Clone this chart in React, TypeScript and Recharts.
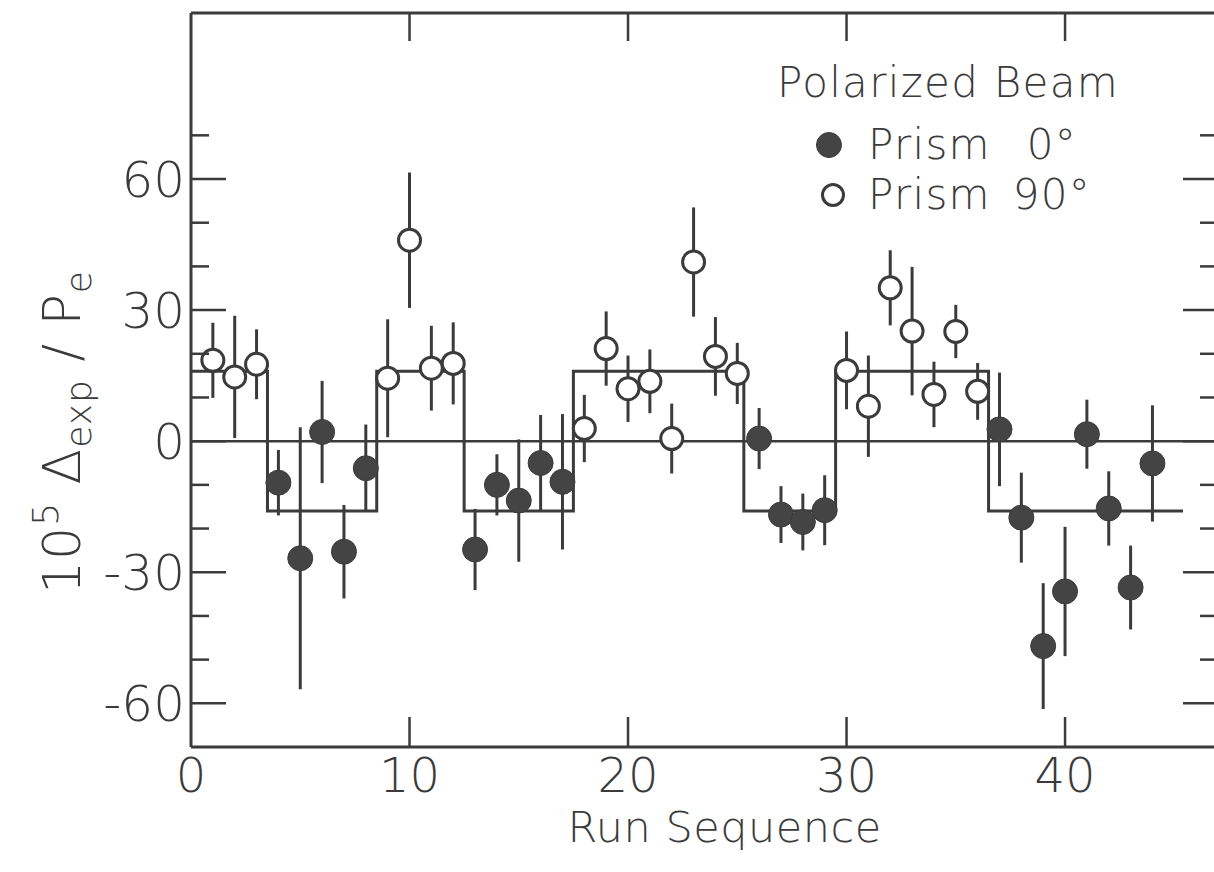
import { ComposedChart, Scatter, Line, XAxis, YAxis, ErrorBar, ReferenceLine, Legend } from 'recharts';

const INK = '#3b3b3b';
const FONT = '"DejaVu Sans", "Noto Sans", sans-serif';

// Prism 0 deg (filled circles)
const filledRuns = [4, 5, 6, 7, 8, 13, 14, 15, 16, 17, 26, 27, 28, 29, 37, 38, 39, 40, 41, 42, 43, 44];
const filledVals = [-9.5, -26.8, 2.1, -25.3, -6.2, -24.8, -10, -13.6, -5, -9.3, 0.6, -16.8, -18.5, -15.8, 2.7, -17.5, -46.9, -34.4, 1.6, -15.4, -33.5, -5.1];
const filledErrs = [7.5, 30, 11.7, 10.7, 10, 9.3, 7, 14, 11, 15.5, 7, 6.5, 6.5, 8, 13, 10.3, 14.4, 14.8, 7.9, 8.5, 9.6, 13.3];

// Prism 90 deg (open circles)
const openRuns = [1, 2, 3, 9, 10, 11, 12, 18, 19, 20, 21, 22, 23, 24, 25, 30, 31, 32, 33, 34, 35, 36];
const openVals = [18.5, 14.7, 17.6, 14.4, 46, 16.7, 17.8, 2.9, 21.2, 12, 13.7, 0.6, 41, 19.4, 15.5, 16.2, 8, 35.1, 25.2, 10.7, 25.1, 11.4];
const openErrs = [8.6, 14, 8, 13.5, 15.5, 9.7, 9.4, 7.7, 8.5, 7.6, 7.3, 8, 12.5, 9, 7, 8.9, 11.6, 8.6, 14.7, 7.5, 6.1, 6.5];

// expected sign pattern (square wave)
const stepX = [0, 3.5, 8.5, 12.5, 17.5, 25.3, 29.5, 36.5, 45.4];
const stepY = [16, -16, 16, -16, 16, -16, 16, -16, -16];

const xTicks = [0, 10, 20, 30, 40];
const topTicks = [10, 20, 30, 40];
const yTicks = [-60, -50, -40, -30, -20, -10, 0, 10, 20, 30, 40, 50, 60, 70];

const filledData = filledRuns.map((x, i) => ({ x, y: filledVals[i], err: filledErrs[i] }));
const openData = openRuns.map((x, i) => ({ x, y: openVals[i], err: openErrs[i] }));
const stepData = stepX.map((x, i) => ({ x, y: stepY[i] }));

const GAP = 8; // tickMargin, used to find the axis line back from the label position

function BottomTick(props: any) {
  const { x, y, payload } = props;
  const axisY = y - GAP;
  return (
    <g>
      {payload.value !== 0 && <line x1={x} x2={x} y1={axisY} y2={axisY - 30} stroke={INK} strokeWidth={2.5} />}
      <text x={x} y={axisY + 45} textAnchor="middle" fontSize={48} fontFamily={FONT} fontWeight={300} fill={INK}>
        {payload.value}
      </text>
    </g>
  );
}

function TopTick(props: any) {
  const { x, y } = props;
  const axisY = y + GAP;
  return <line x1={x} x2={x} y1={axisY} y2={axisY + 28} stroke={INK} strokeWidth={2.5} />;
}

function LeftTick(props: any) {
  const { x, y, payload } = props;
  const axisX = x + GAP;
  const major = payload.value % 30 === 0;
  return (
    <g>
      <line x1={axisX} x2={axisX + (major ? 35 : 18)} y1={y} y2={y} stroke={INK} strokeWidth={2.5} />
      {major && (
        <text x={axisX - 6} y={y} dy={18} textAnchor="end" fontSize={50} fontFamily={FONT} fontWeight={300} fill={INK}>
          {payload.value}
        </text>
      )}
    </g>
  );
}

function RightTick(props: any) {
  const { x, y, payload } = props;
  const axisX = x - GAP;
  const major = payload.value % 30 === 0;
  return <line x1={axisX} x2={axisX - (major ? 35 : 18)} y1={y} y2={y} stroke={INK} strokeWidth={2.5} />;
}

function YTitle(props: any) {
  const vb = props.viewBox;
  const cx = vb.x + 80;
  const cy = vb.y + vb.height / 2 + 52;
  return (
    <text transform={`rotate(-90, ${cx}, ${cy})`} x={cx} y={cy} textAnchor="middle" fontSize={52} letterSpacing={1} fontFamily={FONT} fontWeight={300} fill={INK}>
      <tspan>10</tspan>
      <tspan dy={-22} fontSize={36}>5</tspan>
      <tspan dy={22}> Δ</tspan>
      <tspan dy={11} fontSize={36}>exp</tspan>
      <tspan dy={-11}> / P</tspan>
      <tspan dy={11} fontSize={36}>e</tspan>
    </text>
  );
}

function XTitle(props: any) {
  const vb = props.viewBox;
  return (
    <text x={vb.x + vb.width / 2 + 20} y={vb.y + 95} textAnchor="middle" fontSize={43} letterSpacing={0.5} fontFamily={FONT} fontWeight={300} fill={INK}>
      Run Sequence
    </text>
  );
}

function FilledDot(props: any) {
  return <circle cx={props.cx} cy={props.cy} r={12.5} fill="#444" stroke={INK} strokeWidth={1} />;
}

function OpenDot(props: any) {
  return <circle cx={props.cx} cy={props.cy} r={11} fill="#fff" stroke={INK} strokeWidth={3} />;
}

function LegendBox() {
  const row = { display: 'flex', alignItems: 'center', height: 50, lineHeight: '50px' } as const;
  return (
    <div style={{ fontFamily: FONT, fontWeight: 300, fontSize: 42, color: INK, whiteSpace: 'pre', letterSpacing: 1.3 }}>
      <div style={{ height: 62, lineHeight: '50px' }}>Polarized Beam</div>
      <div style={row}>
        <svg width={91} height={50}>
          <circle cx={52} cy={25} r={12.5} fill="#444" stroke={INK} strokeWidth={1} />
        </svg>
        <span>Prism</span>
        <span style={{ marginLeft: 36 }}>0°</span>
      </div>
      <div style={row}>
        <svg width={91} height={50}>
          <circle cx={56} cy={25} r={10.5} fill="#fff" stroke={INK} strokeWidth={3} />
        </svg>
        <span>Prism</span>
        <span style={{ marginLeft: 22 }}>90°</span>
      </div>
    </div>
  );
}

export default function App() {
  return (
    <div style={{ position: 'fixed', left: 0, top: 0, width: 1214, height: 872, overflow: 'hidden', background: '#fff' }}>
      <ComposedChart width={1240} height={872} margin={{ top: 0, right: 0, bottom: 0, left: 0 }}>
        <XAxis
          xAxisId="b"
          dataKey="x"
          type="number"
          domain={[0, 47]}
          ticks={xTicks}
          interval={0}
          orientation="bottom"
          height={125}
          axisLine={{ stroke: INK, strokeWidth: 3 }}
          tickLine={false}
          tickSize={0}
          tickMargin={GAP}
          tick={(p: any) => <BottomTick {...p} />}
          label={(p: any) => <XTitle {...p} />}
        />
        <XAxis
          xAxisId="t"
          dataKey="x"
          type="number"
          domain={[0, 47]}
          ticks={topTicks}
          interval={0}
          orientation="top"
          height={13}
          axisLine={{ stroke: INK, strokeWidth: 3 }}
          tickLine={false}
          tickSize={0}
          tickMargin={GAP}
          tick={(p: any) => <TopTick {...p} />}
        />
        <YAxis
          yAxisId="l"
          type="number"
          domain={[-70, 98]}
          ticks={yTicks}
          interval={0}
          orientation="left"
          width={191}
          axisLine={{ stroke: INK, strokeWidth: 3 }}
          tickLine={false}
          tickSize={0}
          tickMargin={GAP}
          tick={(p: any) => <LeftTick {...p} />}
          label={(p: any) => <YTitle {...p} />}
        />
        <YAxis
          yAxisId="r"
          type="number"
          domain={[-70, 98]}
          ticks={yTicks}
          interval={0}
          orientation="right"
          width={22}
          axisLine={{ stroke: INK, strokeWidth: 3 }}
          tickLine={false}
          tickSize={0}
          tickMargin={GAP}
          tick={(p: any) => <RightTick {...p} />}
        />
        <ReferenceLine xAxisId="b" yAxisId="l" y={0} stroke={INK} strokeWidth={2.5} />
        {/* invisible copy so the top and right axes get their scales and ticks */}
        <Line
          xAxisId="t"
          yAxisId="r"
          data={stepData}
          dataKey="y"
          stroke="none"
          dot={false}
          activeDot={false}
          isAnimationActive={false}
          legendType="none"
        />
        <Line
          xAxisId="b"
          yAxisId="l"
          data={stepData}
          dataKey="y"
          type="stepAfter"
          stroke={INK}
          strokeWidth={3}
          dot={false}
          activeDot={false}
          isAnimationActive={false}
          legendType="none"
        />
        <Scatter xAxisId="b" yAxisId="l" name="Prism 0°" data={filledData} dataKey="y" shape={(p: any) => <FilledDot {...p} />} isAnimationActive={false}>
          <ErrorBar dataKey="err" direction="y" width={0} stroke={INK} strokeWidth={3} isAnimationActive={false} />
        </Scatter>
        <Scatter xAxisId="b" yAxisId="l" name="Prism 90°" data={openData} dataKey="y" shape={(p: any) => <OpenDot {...p} />} isAnimationActive={false}>
          <ErrorBar dataKey="err" direction="y" width={0} stroke={INK} strokeWidth={3} isAnimationActive={false} />
        </Scatter>
        <Legend
          layout="horizontal"
          verticalAlign="middle"
          align="center"
          content={() => <LegendBox />}
          wrapperStyle={{ position: 'absolute', left: 777, top: 58, width: 'auto' }}
        />
      </ComposedChart>
    </div>
  );
}
